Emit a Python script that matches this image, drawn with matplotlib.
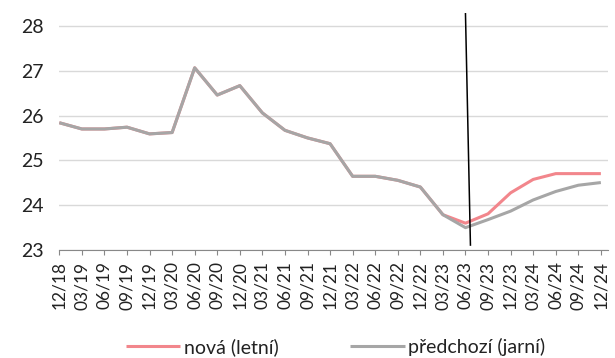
import matplotlib.pyplot as plt
import numpy as np

# quarterly labels and the two forecast vintages
quarters = ['12/18', '03/19', '06/19', '09/19', '12/19', '03/20', '06/20', '09/20',
            '12/20', '03/21', '06/21', '09/21', '12/21', '03/22', '06/22', '09/22',
            '12/22', '03/23', '06/23', '09/23', '12/23', '03/24', '06/24', '09/24', '12/24']
nova = [25.84, 25.70, 25.70, 25.74, 25.59, 25.62, 27.07, 26.46, 26.67, 26.06, 25.67,
        25.50, 25.37, 24.64, 24.64, 24.55, 24.40, 23.78, 23.59, 23.80, 24.27, 24.57,
        24.70, 24.70, 24.70]
predchozi = [25.84, 25.70, 25.70, 25.74, 25.59, 25.62, 27.07, 26.46, 26.67, 26.06, 25.67,
             25.50, 25.37, 24.64, 24.64, 24.55, 24.40, 23.78, 23.49, 23.67, 23.86, 24.11,
             24.30, 24.44, 24.50]
# vertical marker at the start of the forecast
marker_x = [18.0, 18.22]
marker_y = [28.28, 23.1]

plt.rcParams['font.family'] = ['Lato', 'DejaVu Sans']

fig = plt.figure(figsize=(6.15, 3.58), dpi=100)
ax = fig.add_axes([0.0964, 0.303, 0.892, 0.661])

x = np.arange(len(quarters))
ax.plot(x, nova, color='#F2868C', lw=2.2, label='nová (letní)', solid_capstyle='butt')
ax.plot(x, predchozi, color='#A6A6A6', lw=2.2, label='předchozí (jarní)', solid_capstyle='butt')
ax.plot(marker_x, marker_y, color='black', lw=1.1)

ax.set_xlim(0, 24.31)
ax.set_ylim(23, 28.3)
ax.set_yticks([23, 24, 25, 26, 27, 28])
ax.set_xticks(x)
ax.set_xticklabels(quarters, rotation=90)

ax.grid(axis='y', color='#D9D9D9', lw=1)
ax.set_axisbelow(True)
for s in ['top', 'right', 'left']:
    ax.spines[s].set_visible(False)
ax.spines['bottom'].set_color('#888888')
ax.tick_params(axis='x', length=3.6, color='#888888', labelsize=12.5, pad=5)
for t in ax.get_xticklabels():
    t.set_color('#222222')
ax.tick_params(axis='y', length=0, labelsize=14, labelcolor='#222222', pad=11)

fig.legend(loc='center', bbox_to_anchor=(0.546, 0.031), ncol=2, frameon=False,
           fontsize=14, handlelength=2.8, handletextpad=0.2, columnspacing=3.65,
           labelcolor='#222222')

fig.savefig('out.png', dpi=100)
